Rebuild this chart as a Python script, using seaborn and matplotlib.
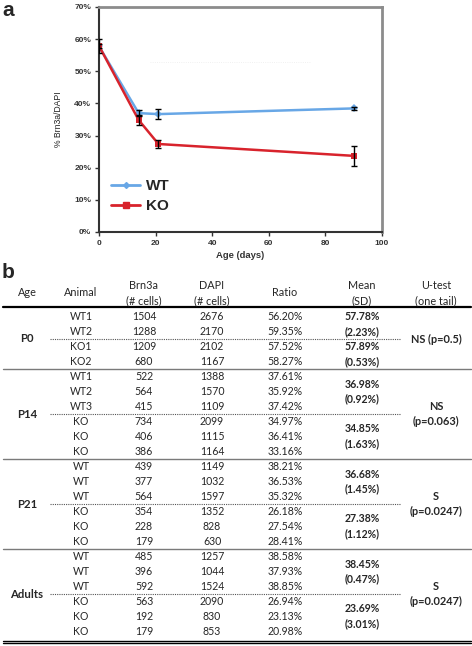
import pandas as pd
import seaborn as sns
import matplotlib.pyplot as plt
from matplotlib.lines import Line2D

# data for panel a (mean and SD of % Brn3a/DAPI)
age_days = [0, 14, 21, 90]
wt_mean = [57.78, 36.98, 36.68, 38.45]
wt_sd = [2.23, 0.92, 1.45, 0.47]
ko_mean = [57.89, 34.85, 27.38, 23.69]
ko_sd = [0.53, 1.63, 1.12, 3.01]

# data for panel b (table)
groups = ["P0", "P14", "P21", "Adults"]
animals = [["WT1", "WT2", "KO1", "KO2"],
           ["WT1", "WT2", "WT3", "KO", "KO", "KO"],
           ["WT", "WT", "WT", "KO", "KO", "KO"],
           ["WT", "WT", "WT", "KO", "KO", "KO"]]
n_wt = [2, 3, 3, 3]
brn3a = [[1504, 1288, 1209, 680],
         [522, 564, 415, 734, 406, 386],
         [439, 377, 564, 354, 228, 179],
         [485, 396, 592, 563, 192, 179]]
dapi = [[2676, 2170, 2102, 1167],
        [1388, 1570, 1109, 2099, 1115, 1164],
        [1149, 1032, 1597, 1352, 828, 630],
        [1257, 1044, 1524, 2090, 830, 853]]
ratio = [[56.20, 59.35, 57.52, 58.27],
         [37.61, 35.92, 37.42, 34.97, 36.41, 33.16],
         [38.21, 36.53, 35.32, 26.18, 27.54, 28.41],
         [38.58, 37.93, 38.85, 26.94, 23.13, 20.98]]
utest = ["NS (p=0.5)", "NS\n(p=0.063)", "S\n(p=0.0247)", "S\n(p=0.0247)"]

blue = "#68a7e6"
red = "#d8232c"

df = pd.DataFrame({
    "age": age_days * 2,
    "ratio": wt_mean + ko_mean,
    "sd": wt_sd + ko_sd,
    "genotype": ["WT"] * 4 + ["KO"] * 4,
})

sns.set_style("white")
plt.rcParams["font.family"] = ["Liberation Sans", "DejaVu Sans"]

fig = plt.figure(figsize=(4.72, 6.46), dpi=100)

# === PANEL A ===
ax = fig.add_axes([99 / 472, 1 - 232 / 646, 283 / 472, 225 / 646])
sns.lineplot(data=df, x="age", y="ratio", hue="genotype", style="genotype",
             palette={"WT": blue, "KO": red}, markers={"WT": "D", "KO": "s"},
             dashes=False, linewidth=1.8, markersize=4, markeredgewidth=0,
             legend=False, ax=ax)
for g in ["WT", "KO"]:
    sub = df[df["genotype"] == g]
    ax.errorbar(sub["age"], sub["ratio"], yerr=sub["sd"], fmt="none",
                ecolor="black", elinewidth=1, capsize=2, capthick=1, zorder=5)
# the faint dotted line seen in the original
ax.axhline(52.8, xmin=0.18, xmax=0.75, color="#ececec", lw=0.6, ls=":")

ax.set_xlim(0, 100)
ax.set_ylim(0, 70)
ax.set_xticks(range(0, 101, 20))
ax.set_yticks(range(0, 71, 10))
ax.set_yticklabels([f"{v}%" for v in range(0, 71, 10)])
for lab in ax.get_xticklabels() + ax.get_yticklabels():
    lab.set_fontsize(6)
    lab.set_fontweight("bold")
    lab.set_color("#333333")
ax.tick_params(axis="both", length=3, width=1, color="#333333", pad=2.5,
               left=True, bottom=True)
ax.set_xlabel("Age (days)", fontsize=6.8, fontweight="bold", color="#333333", labelpad=3)
ax.set_ylabel("% Brn3a/DAPI", fontsize=6.2, color="#222222", labelpad=8)
for side in ["left", "bottom"]:
    ax.spines[side].set_color("#333333")
    ax.spines[side].set_linewidth(1.5)
for side in ["top", "right"]:
    ax.spines[side].set_color("#8c8c8c")
    ax.spines[side].set_linewidth(2)

handles = [Line2D([], [], color=blue, lw=2, marker="D", markersize=3),
           Line2D([], [], color=red, lw=2, marker="s", markersize=4)]
leg = ax.legend(handles, ["WT", "KO"], loc="upper left", bbox_to_anchor=(-0.005, 0.295),
                frameon=False, handlelength=1.9, handletextpad=0.35, labelspacing=0.4,
                prop={"weight": "bold", "size": 11})

# === PANEL B (table) ===
tx = fig.add_axes([0, 0, 1, 1])
tx.set_xlim(0, 472)
tx.set_ylim(646, 0)
tx.axis("off")

tx.text(2, 10, "a", fontsize=15, fontweight="bold", ha="left", va="center")
tx.text(2, 273, "b", fontsize=15, fontweight="bold", ha="left", va="center")

tfont = ["Lato", "DejaVu Sans"]
fs = 7.6
col_x = [27, 81, 144, 212, 285, 362, 436]
headers = ["Age", "Animal", "Brn3a\n(# cells)", "DAPI\n(# cells)", "Ratio", "Mean\n(SD)", "U-test\n(one tail)"]
for x, h in zip(col_x, headers):
    tx.text(x, 293, h, family=tfont, fontsize=fs + 0.2, ha="center", va="center",
            linespacing=1.4)
tx.plot([3, 471], [307, 307], color="black", lw=1.6)

row_h = 15.0
y = 316.5
for i, g in enumerate(groups):
    n = len(animals[i])
    top = y
    for j in range(n):
        ry = y + j * row_h
        tx.text(col_x[1], ry, animals[i][j], family=tfont, fontsize=fs, ha="center", va="center")
        tx.text(col_x[2], ry, str(brn3a[i][j]), family=tfont, fontsize=fs, ha="center", va="center")
        tx.text(col_x[3], ry, str(dapi[i][j]), family=tfont, fontsize=fs, ha="center", va="center")
        tx.text(col_x[4], ry, f"{ratio[i][j]:.2f}%", family=tfont, fontsize=fs, ha="center", va="center")
    bottom = y + (n - 1) * row_h
    mid = (top + bottom) / 2
    tx.text(col_x[0], mid, g, family=tfont, fontsize=fs + 0.6, fontweight="bold", ha="center", va="center")
    # group means and SDs, from the same values as panel a
    wt_c = top + (n_wt[i] - 1) * row_h / 2
    ko_c = top + n_wt[i] * row_h + (n - n_wt[i] - 1) * row_h / 2
    for c, m, s in [(wt_c, wt_mean[i], wt_sd[i]), (ko_c, ko_mean[i], ko_sd[i])]:
        tx.text(col_x[5], c - row_h / 2, f"{m:.2f}%", family=tfont, fontsize=fs,
                fontweight="bold", ha="center", va="center")
        tx.text(col_x[5], c + row_h / 2, f"({s:.2f}%)", family=tfont, fontsize=fs,
                fontweight="bold", ha="center", va="center")
    tx.text(col_x[6], mid, utest[i], family=tfont, fontsize=fs + 0.3, fontweight="bold",
            ha="center", va="center", linespacing=1.55)
    sep = top + (n_wt[i] - 0.5) * row_h
    tx.plot([50, 401], [sep, sep], color="#555555", lw=0.8, ls=(0, (1, 1)))
    if i < len(groups) - 1:
        line_y = bottom + row_h / 2
        tx.plot([3, 471], [line_y, line_y], color="#7a7a7a", lw=1.0)
    y = bottom + row_h

tx.plot([3, 471], [640.5, 640.5], color="black", lw=1.0)
tx.plot([3, 471], [643, 643], color="black", lw=1.0)

fig.savefig("out.png", dpi=100)
